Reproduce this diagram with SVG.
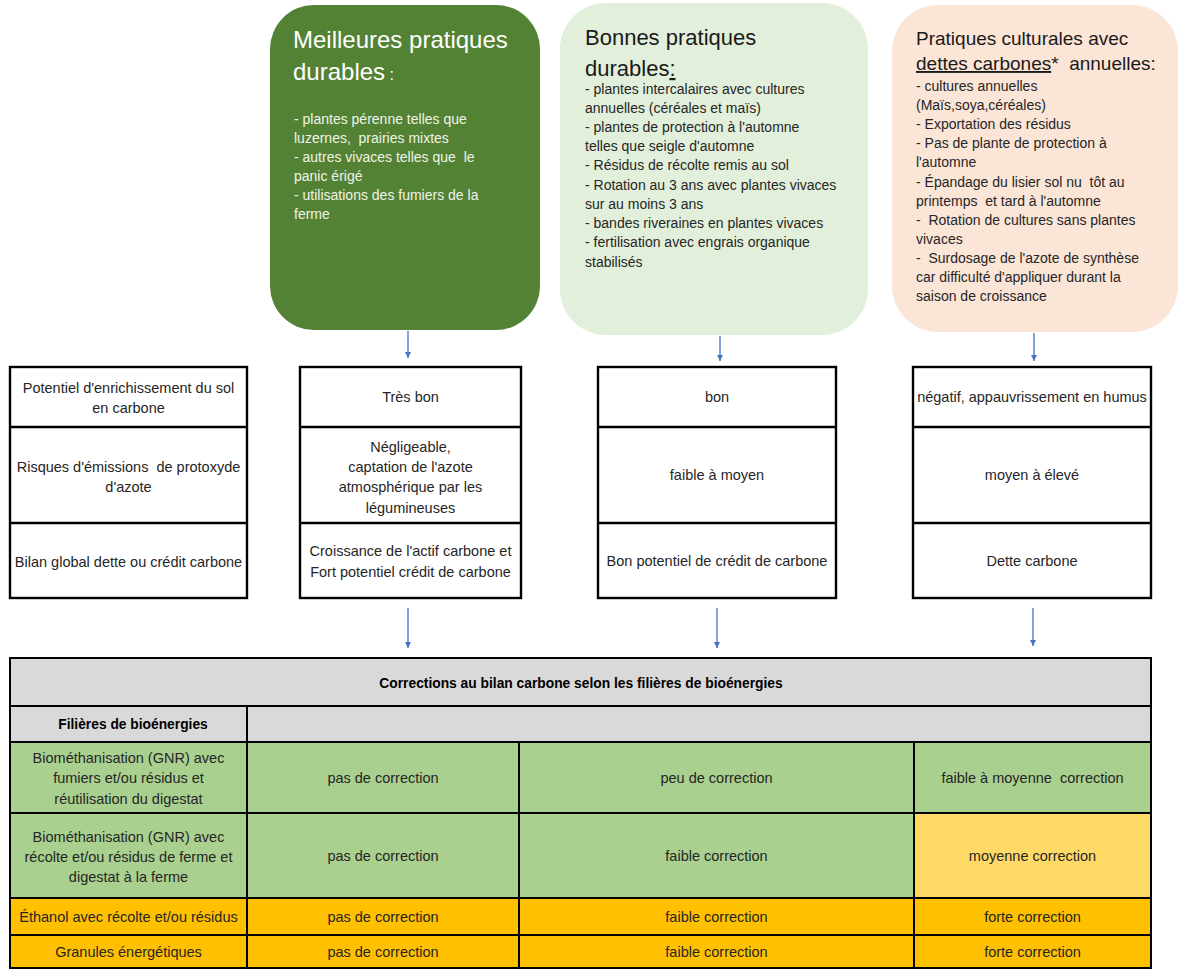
<svg xmlns="http://www.w3.org/2000/svg" width="1180" height="969" viewBox="0 0 1180 969">
<style>
  text { font-family: "Liberation Sans", Arial, sans-serif; white-space: pre; }
  .t { font-size: 14.5px; fill: #262626; text-anchor: middle; }
  .cell { stroke: #000; stroke-width: 2.4; }
  .grid { stroke: #000; stroke-width: 2; fill: none; }
  .conn { stroke: #4472C4; stroke-width: 1.3; fill: none; }
  .hd { font-size: 13.8px; font-weight: bold; fill: #000; text-anchor: middle; }
</style>
<defs>
  <marker id="ah" viewBox="0 0 10 10" refX="10" refY="5" markerWidth="6" markerHeight="6" markerUnits="userSpaceOnUse" orient="auto">
    <path d="M0,0 L10,5 L0,10 z" fill="#4472C4"/>
  </marker>
</defs>
<rect width="1180" height="969" fill="#fff"/>

<!-- Top boxes -->
<g id="box-meilleures">
  <rect x="270" y="5" width="270" height="325" rx="44" ry="44" fill="#548235"/>
  <text x="293" y="48" font-size="24" fill="#fff">Meilleures pratiques</text>
  <text x="293" y="80" font-size="24" fill="#fff">durables<tspan font-size="16"> :</tspan></text>
  <g fill="#EEF4E8" font-size="14">
    <text x="294" y="124">- plantes pérenne telles que</text>
    <text x="294" y="143">luzernes,  prairies mixtes</text>
    <text x="294" y="162">- autres vivaces telles que  le</text>
    <text x="294" y="181">panic érigé</text>
    <text x="294" y="200">- utilisations des fumiers de la</text>
    <text x="294" y="219">ferme</text>
  </g>
</g>

<g id="box-bonnes">
  <rect x="560" y="3" width="308" height="332" rx="46" ry="46" fill="#E2EFDA"/>
  <text x="585" y="45" font-size="22" fill="#1a1a1a">Bonnes pratiques</text>
  <text x="585" y="76" font-size="22" fill="#1a1a1a">durables<tspan text-decoration="underline">:</tspan></text>
  <g fill="#262626" font-size="14">
    <text x="585" y="94">- plantes intercalaires avec cultures</text>
    <text x="585" y="113">annuelles (céréales et maïs)</text>
    <text x="585" y="132">- plantes de protection à l'automne</text>
    <text x="585" y="151">telles que seigle d'automne</text>
    <text x="585" y="170">- Résidus de récolte remis au sol</text>
    <text x="585" y="190">- Rotation au 3 ans avec plantes vivaces</text>
    <text x="585" y="209">sur au moins 3 ans</text>
    <text x="585" y="228">- bandes riveraines en plantes vivaces</text>
    <text x="585" y="247">- fertilisation avec engrais organique</text>
    <text x="585" y="267">stabilisés</text>
  </g>
</g>

<g id="box-dettes">
  <rect x="892" y="5" width="286" height="327" rx="46" ry="46" fill="#FBE5D6"/>
  <text x="916" y="45" font-size="19" fill="#1a1a1a">Pratiques culturales avec</text>
  <text x="916" y="70" font-size="19" fill="#1a1a1a"><tspan text-decoration="underline">dettes carbones</tspan>*  annuelles:</text>
  <g fill="#262626" font-size="14">
    <text x="916" y="91">- cultures annuelles</text>
    <text x="916" y="110">(Maïs,soya,céréales)</text>
    <text x="916" y="129">- Exportation des résidus</text>
    <text x="916" y="148">- Pas de plante de protection à</text>
    <text x="916" y="167">l'automne</text>
    <text x="916" y="187">- Épandage du lisier sol nu  tôt au</text>
    <text x="916" y="206">printemps  et tard à l'automne</text>
    <text x="916" y="225">-  Rotation de cultures sans plantes</text>
    <text x="916" y="244">vivaces</text>
    <text x="916" y="263">-  Surdosage de l'azote de synthèse</text>
    <text x="916" y="282">car difficulté d'appliquer durant la</text>
    <text x="916" y="301">saison de croissance</text>
  </g>
</g>

<!-- Middle tables -->
<g id="table-criteres">
  <rect x="10" y="367" width="237" height="231" fill="#fff" class="cell"/>
  <line x1="10" y1="427" x2="247" y2="427" class="cell"/>
  <line x1="10" y1="523" x2="247" y2="523" class="cell"/>
  <text class="t" x="128.5" y="393">Potentiel d'enrichissement du sol</text>
  <text class="t" x="128.5" y="413">en carbone</text>
  <text class="t" x="128.5" y="472">Risques d'émissions  de protoxyde</text>
  <text class="t" x="128.5" y="492">d'azote</text>
  <text class="t" x="128.5" y="567">Bilan global dette ou crédit carbone</text>
</g>

<g id="table-meilleures">
  <rect x="300" y="367" width="221" height="231" fill="#fff" class="cell"/>
  <line x1="300" y1="427" x2="521" y2="427" class="cell"/>
  <line x1="300" y1="523" x2="521" y2="523" class="cell"/>
  <text class="t" x="410.5" y="402">Très bon</text>
  <text class="t" x="410.5" y="452">Négligeable,</text>
  <text class="t" x="410.5" y="472">captation de l'azote</text>
  <text class="t" x="410.5" y="492">atmosphérique par les</text>
  <text class="t" x="410.5" y="513">légumineuses</text>
  <text class="t" x="410.5" y="556">Croissance de l'actif carbone et</text>
  <text class="t" x="410.5" y="577">Fort potentiel crédit de carbone</text>
</g>

<g id="table-bonnes">
  <rect x="598" y="367" width="238" height="231" fill="#fff" class="cell"/>
  <line x1="598" y1="427" x2="836" y2="427" class="cell"/>
  <line x1="598" y1="523" x2="836" y2="523" class="cell"/>
  <text class="t" x="717" y="402">bon</text>
  <text class="t" x="717" y="480">faible à moyen</text>
  <text class="t" x="717" y="566">Bon potentiel de crédit de carbone</text>
</g>

<g id="table-dettes">
  <rect x="913" y="367" width="238" height="231" fill="#fff" class="cell"/>
  <line x1="913" y1="427" x2="1151" y2="427" class="cell"/>
  <line x1="913" y1="523" x2="1151" y2="523" class="cell"/>
  <text class="t" x="1032" y="402">négatif, appauvrissement en humus</text>
  <text class="t" x="1032" y="480">moyen à élevé</text>
  <text class="t" x="1032" y="566">Dette carbone</text>
</g>

<!-- Connectors -->
<g id="connectors">
  <line class="conn" x1="408" y1="331" x2="408" y2="358" marker-end="url(#ah)"/>
  <line class="conn" x1="720" y1="336" x2="720" y2="361" marker-end="url(#ah)"/>
  <line class="conn" x1="1034" y1="333" x2="1034" y2="361" marker-end="url(#ah)"/>
  <line class="conn" x1="408" y1="608" x2="408" y2="648" marker-end="url(#ah)"/>
  <line class="conn" x1="717" y1="608" x2="717" y2="648" marker-end="url(#ah)"/>
  <line class="conn" x1="1033" y1="608" x2="1033" y2="646" marker-end="url(#ah)"/>
</g>

<!-- Bottom table -->
<g id="table-corrections">
  <rect x="10" y="658" width="1141" height="84" fill="#D9D9D9"/>
  <rect x="10" y="742" width="904" height="156" fill="#A9D08E"/>
  <rect x="914" y="742" width="237" height="71" fill="#A9D08E"/>
  <rect x="914" y="813" width="237" height="85" fill="#FFD966"/>
  <rect x="10" y="898" width="1141" height="70" fill="#FFC000"/>
  <rect x="10" y="658" width="1141" height="310" class="grid"/>
  <line class="grid" x1="10" y1="706" x2="1151" y2="706"/>
  <line class="grid" x1="10" y1="742" x2="1151" y2="742"/>
  <line class="grid" x1="10" y1="813" x2="1151" y2="813"/>
  <line class="grid" x1="10" y1="898" x2="1151" y2="898"/>
  <line class="grid" x1="10" y1="935" x2="1151" y2="935"/>
  <line class="grid" x1="247" y1="706" x2="247" y2="968"/>
  <line class="grid" x1="519" y1="742" x2="519" y2="968"/>
  <line class="grid" x1="914" y1="742" x2="914" y2="968"/>

  <text class="hd" x="581" y="688">Corrections au bilan carbone selon les filières de bioénergies</text>
  <text class="hd" x="133" y="729">Filières de bioénergies</text>

  <text class="t" x="128.5" y="763">Biométhanisation (GNR) avec</text>
  <text class="t" x="128.5" y="783">fumiers et/ou résidus et</text>
  <text class="t" x="128.5" y="804">réutilisation du digestat</text>
  <text class="t" x="383" y="783">pas de correction</text>
  <text class="t" x="716.5" y="783">peu de correction</text>
  <text class="t" x="1032.5" y="783">faible à moyenne  correction</text>

  <text class="t" x="128.5" y="842">Biométhanisation (GNR) avec</text>
  <text class="t" x="128.5" y="862">récolte et/ou résidus de ferme et</text>
  <text class="t" x="128.5" y="882">digestat à la ferme</text>
  <text class="t" x="383" y="861">pas de correction</text>
  <text class="t" x="716.5" y="861">faible correction</text>
  <text class="t" x="1032.5" y="861">moyenne correction</text>

  <text class="t" x="128.5" y="922">Éthanol avec récolte et/ou résidus</text>
  <text class="t" x="383" y="922">pas de correction</text>
  <text class="t" x="716.5" y="922">faible correction</text>
  <text class="t" x="1032.5" y="922">forte correction</text>

  <text class="t" x="128.5" y="957">Granules énergétiques</text>
  <text class="t" x="383" y="957">pas de correction</text>
  <text class="t" x="716.5" y="957">faible correction</text>
  <text class="t" x="1032.5" y="957">forte correction</text>
</g>
</svg>
